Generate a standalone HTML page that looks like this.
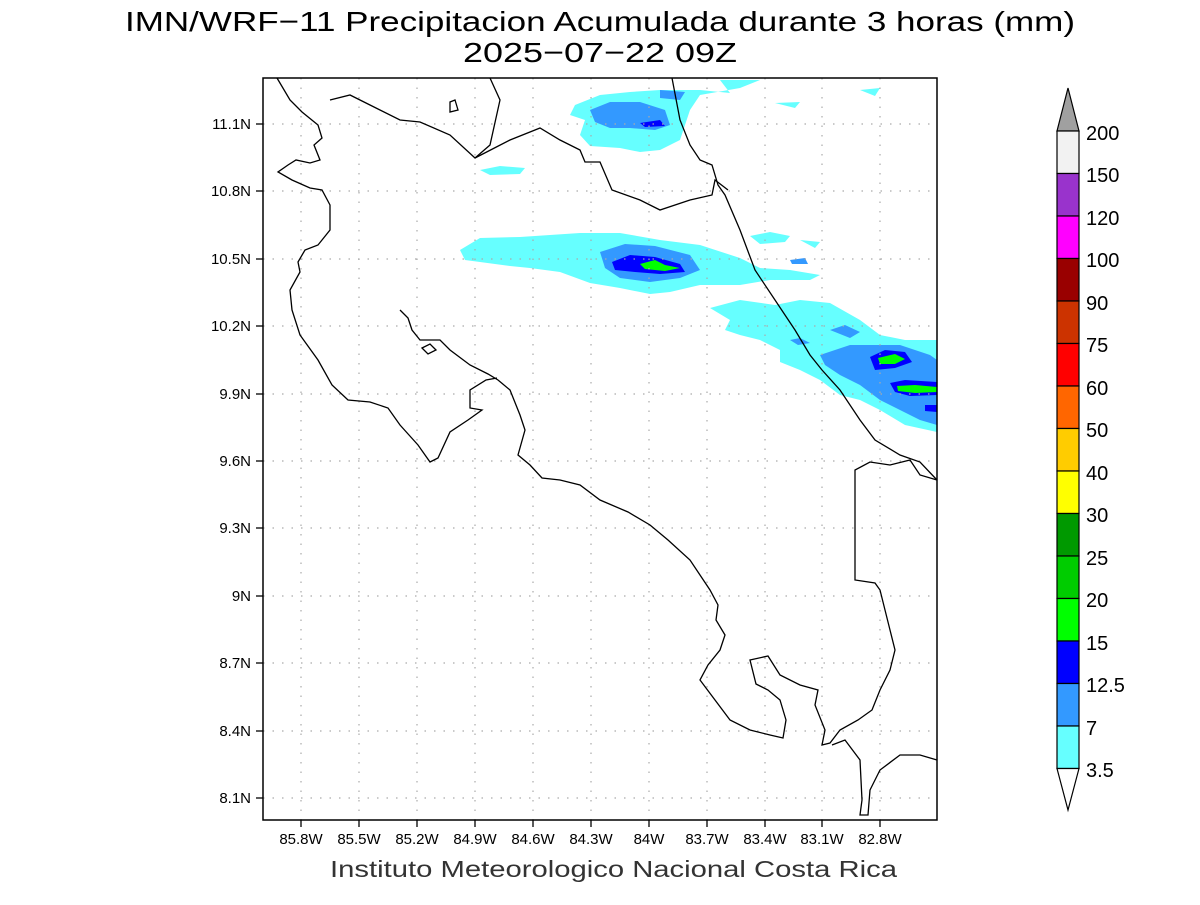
<!DOCTYPE html>
<html><head><style>
body{margin:0;background:#fff;}
svg text{font-family:"Liberation Sans",sans-serif;}
</style></head><body>
<svg width="1200" height="900" viewBox="0 0 1200 900" xmlns="http://www.w3.org/2000/svg">
<rect width="1200" height="900" fill="#fff"/>
<text x="125" y="31" font-size="28" fill="#000" textLength="950" lengthAdjust="spacingAndGlyphs">IMN/WRF−11 Precipitacion Acumulada durante 3 horas (mm)</text>
<text x="463" y="62" font-size="28" fill="#000" textLength="274" lengthAdjust="spacingAndGlyphs">2025−07−22 09Z</text>

<!-- precip -->
<g>
<g fill="#66ffff">
<path d="M575,105 L600,95 L630,92 L660,90 L700,90 L730,93 L720,80 L760,80 L740,88 L700,95 L690,110 L680,140 L660,150 L640,152 L620,148 L590,146 L580,135 L585,120 L570,115 Z"/>
<path d="M460,250 L480,238 L520,237 L550,235 L580,233 L620,233 L660,240 L700,245 L740,258 L760,268 L790,270 L820,275 L810,280 L770,280 L740,285 L700,285 L670,292 L650,294 L620,288 L590,283 L560,272 L530,268 L510,266 L480,262 L465,260 Z"/>
<path d="M710,308 L740,300 L775,305 L800,300 L830,303 L860,320 L880,335 L905,340 L937,340 L937,432 L905,425 L880,410 L860,400 L840,395 L820,380 L800,370 L780,362 L780,350 L760,340 L740,335 L725,330 L730,320 Z"/>
<path d="M480,170 L500,166 L525,168 L520,174 L490,175 Z"/>
<path d="M750,236 L770,232 L790,236 L785,242 L760,244 Z"/>
<path d="M800,240 L820,242 L815,248 Z"/>
<path d="M860,90 L880,88 L875,96 Z"/>
<path d="M775,103 L800,102 L795,108 Z"/>
</g>
<g fill="#3399ff">
<path d="M590,110 L610,102 L640,102 L665,110 L670,125 L655,130 L630,128 L610,128 L595,122 Z"/>
<path d="M600,252 L625,244 L655,246 L690,255 L700,270 L680,278 L650,282 L620,278 L605,268 Z"/>
<path d="M790,340 L800,338 L810,343 L798,345 Z"/>
<path d="M830,330 L845,325 L860,332 L850,338 Z"/>
<path d="M820,355 L850,345 L870,345 L900,345 L930,355 L937,360 L937,425 L920,420 L900,410 L880,400 L860,385 L840,375 L825,365 Z"/>
<path d="M660,90 L685,92 L680,100 L660,98 Z"/>
<path d="M790,260 L805,258 L808,264 L792,264 Z"/>
</g>
<g fill="#0000ff">
<path d="M612,262 L630,255 L655,257 L680,264 L685,272 L660,274 L635,272 L615,270 Z"/>
<path d="M870,357 L885,350 L905,352 L912,362 L895,368 L875,370 Z"/>
<path d="M890,383 L905,380 L937,382 L937,395 L910,396 L895,392 Z"/>
<path d="M925,405 L937,405 L937,412 L925,411 Z"/>
<path d="M640,123 L660,120 L665,126 L645,127 Z"/>
</g>
<g fill="#00ff00">
<path d="M640,264 L655,260 L665,265 L680,268 L665,271 L645,269 Z"/>
<path d="M878,358 L895,354 L905,359 L895,364 L880,364 Z"/>
<path d="M897,386 L915,385 L937,387 L937,392 L915,393 L898,391 Z"/>
</g>
</g>

<!-- grid -->
<g stroke="#aaa" stroke-width="1.2" stroke-dasharray="1.5,8">
<line x1="301" y1="78" x2="301" y2="820"/><line x1="359" y1="78" x2="359" y2="820"/>
<line x1="417" y1="78" x2="417" y2="820"/><line x1="475" y1="78" x2="475" y2="820"/>
<line x1="533" y1="78" x2="533" y2="820"/><line x1="591" y1="78" x2="591" y2="820"/>
<line x1="649" y1="78" x2="649" y2="820"/><line x1="707" y1="78" x2="707" y2="820"/>
<line x1="765" y1="78" x2="765" y2="820"/><line x1="822" y1="78" x2="822" y2="820"/>
<line x1="880" y1="78" x2="880" y2="820"/>
<line x1="263" y1="124" x2="937" y2="124"/><line x1="263" y1="191" x2="937" y2="191"/>
<line x1="263" y1="259" x2="937" y2="259"/><line x1="263" y1="326" x2="937" y2="326"/>
<line x1="263" y1="394" x2="937" y2="394"/><line x1="263" y1="461" x2="937" y2="461"/>
<line x1="263" y1="528" x2="937" y2="528"/><line x1="263" y1="596" x2="937" y2="596"/>
<line x1="263" y1="663" x2="937" y2="663"/><line x1="263" y1="731" x2="937" y2="731"/>
<line x1="263" y1="798" x2="937" y2="798"/>
</g>

<!-- coast -->
<g fill="none" stroke="#000" stroke-width="1.3">
<polyline points="277,78 290,100 302,112 318,125 322,138 314,145 320,160 310,163 296,160 288,165 278,172 292,180 310,188 322,190 330,205 330,230 318,245 305,250 298,262 300,272 290,290 292,310 300,335 318,360 332,385 348,400 370,402 388,408 400,425 418,445 430,462 438,458 450,432 468,420 482,410 470,408 470,390 486,380 497,378"/>
<polyline points="400,310 408,318 412,330 420,340 440,340 450,350 470,365 488,374 498,380 510,390 520,415 525,430 518,455 530,465 542,478 560,480 580,485 600,500 628,512 650,525 668,540 690,560 700,575 710,590 718,605 716,620 725,635 720,650 708,665 700,680 715,700 730,720 750,730 770,735 783,738 786,720 780,700 768,690 756,684 750,660 768,656 780,675 800,685 818,690 815,705 825,730 822,745 830,743 840,730 858,720 872,710 880,690 890,670 895,650 890,630 885,610 880,590 875,583 855,580 855,470 870,462 890,465 910,460 920,475 937,480"/>
<polyline points="832,745 845,740 860,760 862,800 860,815 868,815 870,790 880,770 900,755 920,755 937,760"/>
<polyline points="672,78 680,120 690,145 700,160 712,165 718,185 725,195 740,230 755,270 775,300 795,330 810,355 822,370 840,390 860,420 875,440 900,455 920,462 937,480"/>
<polyline points="330,100 350,95 370,105 400,120 420,122 450,135 475,158 490,145 500,100 490,78"/>
<polyline points="475,158 510,140 540,128 560,140 580,150 585,162 600,162 612,190 640,200 660,210 690,200 712,195 715,180 728,190"/>
<polygon points="422,348 430,344 436,350 428,354"/>
<polygon points="450,102 455,100 458,110 450,112"/>
</g>

<rect x="263" y="78" width="674" height="742" fill="none" stroke="#000" stroke-width="1.5"/>

<!-- ticks -->
<g stroke="#000" stroke-width="1.3">
<line x1="256" y1="124" x2="263" y2="124"/><line x1="256" y1="191" x2="263" y2="191"/>
<line x1="256" y1="259" x2="263" y2="259"/><line x1="256" y1="326" x2="263" y2="326"/>
<line x1="256" y1="394" x2="263" y2="394"/><line x1="256" y1="461" x2="263" y2="461"/>
<line x1="256" y1="528" x2="263" y2="528"/><line x1="256" y1="596" x2="263" y2="596"/>
<line x1="256" y1="663" x2="263" y2="663"/><line x1="256" y1="731" x2="263" y2="731"/>
<line x1="256" y1="798" x2="263" y2="798"/>
<line x1="301" y1="820" x2="301" y2="827"/><line x1="359" y1="820" x2="359" y2="827"/>
<line x1="417" y1="820" x2="417" y2="827"/><line x1="475" y1="820" x2="475" y2="827"/>
<line x1="533" y1="820" x2="533" y2="827"/><line x1="591" y1="820" x2="591" y2="827"/>
<line x1="649" y1="820" x2="649" y2="827"/><line x1="707" y1="820" x2="707" y2="827"/>
<line x1="765" y1="820" x2="765" y2="827"/><line x1="822" y1="820" x2="822" y2="827"/>
<line x1="880" y1="820" x2="880" y2="827"/>
</g>
<g font-size="15" fill="#000" text-anchor="end">
<text x="251" y="129">11.1N</text><text x="251" y="196">10.8N</text><text x="251" y="264">10.5N</text>
<text x="251" y="331">10.2N</text><text x="251" y="399">9.9N</text><text x="251" y="466">9.6N</text>
<text x="251" y="533">9.3N</text><text x="251" y="601">9N</text><text x="251" y="668">8.7N</text>
<text x="251" y="736">8.4N</text><text x="251" y="803">8.1N</text>
</g>
<g font-size="15" fill="#000" text-anchor="middle">
<text x="301" y="844">85.8W</text><text x="359" y="844">85.5W</text><text x="417" y="844">85.2W</text>
<text x="475" y="844">84.9W</text><text x="533" y="844">84.6W</text><text x="591" y="844">84.3W</text>
<text x="649" y="844">84W</text><text x="707" y="844">83.7W</text><text x="765" y="844">83.4W</text>
<text x="822" y="844">83.1W</text><text x="880" y="844">82.8W</text>
</g>
<text x="330" y="877" font-size="23" fill="#333" textLength="567" lengthAdjust="spacingAndGlyphs">Instituto Meteorologico Nacional Costa Rica</text>

<!-- colorbar -->
<g stroke="#000" stroke-width="1.2">
<polygon points="1057,131 1068,88 1079,131" fill="#a0a0a0"/>
<rect x="1057" y="131" width="22" height="42.5" fill="#f2f2f2"/>
<rect x="1057" y="173.5" width="22" height="42.5" fill="#9933cc"/>
<rect x="1057" y="216" width="22" height="42.5" fill="#ff00ff"/>
<rect x="1057" y="258.5" width="22" height="42.5" fill="#990000"/>
<rect x="1057" y="301" width="22" height="42.5" fill="#cc3300"/>
<rect x="1057" y="343.5" width="22" height="42.5" fill="#ff0000"/>
<rect x="1057" y="386" width="22" height="42.5" fill="#ff6600"/>
<rect x="1057" y="428.5" width="22" height="42.5" fill="#ffcc00"/>
<rect x="1057" y="471" width="22" height="42.5" fill="#ffff00"/>
<rect x="1057" y="513.5" width="22" height="42.5" fill="#009900"/>
<rect x="1057" y="556" width="22" height="42.5" fill="#00cc00"/>
<rect x="1057" y="598.5" width="22" height="42.5" fill="#00ff00"/>
<rect x="1057" y="641" width="22" height="42.5" fill="#0000ff"/>
<rect x="1057" y="683.5" width="22" height="42.5" fill="#3399ff"/>
<rect x="1057" y="726" width="22" height="42.5" fill="#66ffff"/>
<polygon points="1057,768.5 1068,810 1079,768.5" fill="#fff"/>
</g>
<g font-size="20" fill="#000">
<text x="1086" y="140">200</text><text x="1086" y="182">150</text><text x="1086" y="225">120</text>
<text x="1086" y="267">100</text><text x="1086" y="310">90</text><text x="1086" y="352">75</text>
<text x="1086" y="395">60</text><text x="1086" y="437">50</text><text x="1086" y="480">40</text>
<text x="1086" y="522">30</text><text x="1086" y="565">25</text><text x="1086" y="607">20</text>
<text x="1086" y="650">15</text><text x="1086" y="692">12.5</text><text x="1086" y="735">7</text>
<text x="1086" y="777">3.5</text>
</g>
</svg>
</body></html>
